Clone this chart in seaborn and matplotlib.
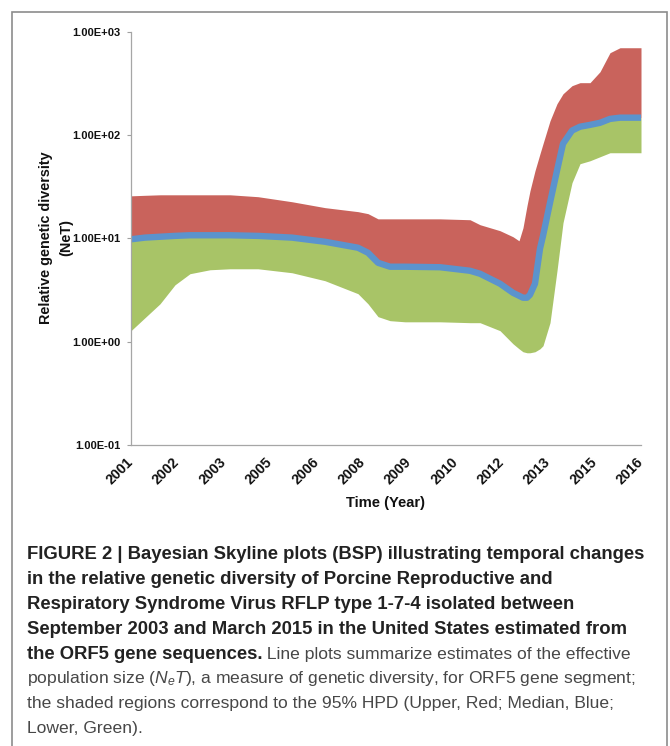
import numpy as np
import pandas as pd
import matplotlib
matplotlib.use("Agg")
import matplotlib.pyplot as plt
import seaborn as sns
from matplotlib.patches import Rectangle
from matplotlib.ticker import NullLocator

# Bayesian skyline reconstruction (time in decimal years)
years = [2001.000, 2001.412, 2001.853, 2002.294, 2002.735, 2003.324, 2003.912,
         2004.735, 2005.735, 2006.706, 2007.676, 2007.971, 2008.265, 2008.618,
         2009.059, 2010.088, 2010.971, 2011.265, 2011.853, 2012.235, 2012.412,
         2012.529, 2012.647, 2012.735, 2012.882, 2013.029, 2013.118, 2013.324,
         2013.529, 2013.706, 2013.971, 2014.206, 2014.500, 2014.794, 2015.088,
         2015.382, 2016.000]

upper_hpd = [25.9, 26.2, 26.5, 26.5, 26.5, 26.5, 26.5,
             25.4, 22.7, 19.9, 18.2, 17.4, 15.5, 15.5,
             15.5, 15.5, 15.2, 13.6, 11.9, 10.4, 9.5,
             12.7, 20.8, 29.0, 45.3, 66.2, 82.8, 138,
             202, 252, 302, 323, 323, 412, 630,
             704, 704]

median_net = [9.83, 10.2, 10.4, 10.6, 10.75, 10.75, 10.75,
              10.6, 10.2, 9.30, 8.14, 7.28, 5.82, 5.33,
              5.33, 5.27, 4.87, 4.56, 3.65, 2.98, 2.79,
              2.67, 2.67, 2.85, 3.65, 7.96, 10.6, 22.2,
              45.3, 82.8, 111, 121, 126, 132, 144,
              148, 148]

lower_hpd = [1.28, 1.71, 2.33, 3.56, 4.56, 4.98, 5.09,
             5.09, 4.66, 3.90, 2.92, 2.33, 1.75, 1.60,
             1.56, 1.56, 1.53, 1.53, 1.28, 0.956, 0.855,
             0.800, 0.782, 0.782, 0.800, 0.855, 0.915, 1.53,
             4.87, 14.2, 34.7, 53.0, 56.6, 61.9, 67.7,
             67.7, 67.7]

year_labels = ["2001", "2002", "2003", "2005", "2006", "2008",
               "2009", "2010", "2012", "2013", "2015", "2016"]
y_ticks = [0.1, 1, 10, 100, 1000]
y_tick_labels = ["1.00E-01", "1.00E+00", "1.00E+01", "1.00E+02", "1.00E+03"]

caption_bold = [
    "FIGURE 2 | Bayesian Skyline plots (BSP) illustrating temporal changes",
    "in the relative genetic diversity of Porcine Reproductive and",
    "Respiratory Syndrome Virus RFLP type 1-7-4 isolated between",
    "September 2003 and March 2015 in the United States estimated from",
    "the ORF5 gene sequences.",
]
caption_regular = [
    " Line plots summarize estimates of the effective",
    "population size ($N_{e}T$), a measure of genetic diversity, for ORF5 gene segment;",
    "the shaded regions correspond to the 95% HPD (Upper, Red; Median, Blue;",
    "Lower, Green).",
]

RED = "#C9635C"
GREEN = "#A8C467"
BLUE = "#5B93CD"

sns.set_theme(style="white")
plt.rcParams["font.family"] = ["Liberation Sans", "DejaVu Sans"]
plt.rcParams["mathtext.fontset"] = "custom"
plt.rcParams["mathtext.rm"] = "Liberation Sans"
plt.rcParams["mathtext.it"] = "Liberation Sans:italic"

W, H = 670, 746
fig = plt.figure(figsize=(W / 100, H / 100), dpi=100)
fig.patch.set_facecolor("white")

ax = fig.add_axes([131 / W, 1 - 445 / H, 510 / W, 413 / H])
ax.set_facecolor("white")

df = pd.DataFrame({"year": years, "upper": upper_hpd,
                   "med": median_net, "lower": lower_hpd})

ax.fill_between(df["year"], df["med"], df["upper"], color=RED, lw=0)
ax.fill_between(df["year"], df["lower"], df["med"], color=GREEN, lw=0)
sns.lineplot(data=df, x="year", y="med", color=BLUE, lw=4.6, ax=ax,
             solid_capstyle="butt", solid_joinstyle="round")

ax.set_yscale("log")
ax.set_ylim(0.1, 1000)
ax.set_xlim(2001, 2016)
ax.set_yticks(y_ticks)
ax.set_yticklabels(y_tick_labels, fontsize=8, fontweight="bold", color="#111111")
ax.yaxis.set_minor_locator(NullLocator())
ax.set_xticks(np.linspace(2001, 2016, len(year_labels)))
ax.set_xticklabels(year_labels, fontsize=10.2, fontweight="bold", color="#111111",
                   rotation=45, ha="right", va="center", rotation_mode="anchor")
ax.tick_params(axis="y", direction="out", length=3, width=0.8, color="#a0a0a0", pad=4.3, left=True)
ax.tick_params(axis="x", length=0, pad=11)
ax.set_xlabel("")
ax.set_ylabel("")
for side in ("top", "right"):
    ax.spines[side].set_visible(False)
for side in ("left", "bottom"):
    ax.spines[side].set_color("#a6a6a6")
    ax.spines[side].set_linewidth(0.9)
ax.grid(False)

fig.text(56 / W, 1 - 238 / H, "Relative genetic diversity\n(NeT)", rotation=90,
         ha="center", va="center", multialignment="center", fontsize=10.4,
         fontweight="bold", color="#111111", linespacing=1.5)
fig.text(386 / W, 1 - 503 / H, "Time (Year)", ha="center", va="center",
         fontsize=10.6, fontweight="bold", color="#111111")

# frame around the figure panel
fig.patches.append(Rectangle((12 / W, -0.05), (667 - 12) / W, 1.05 - 12 / H,
                             transform=fig.transFigure, fill=False,
                             edgecolor="#8c8c8c", lw=1.2, clip_on=False))

# caption
renderer = fig.canvas.get_renderer()
x0 = 27 / W
base0 = 559
step = 24.9
bold_size = 13.3
reg_size = 12.6
bold_color = "#222222"
reg_color = "#474747"

lines = []
for i, s in enumerate(caption_bold):
    t = fig.text(x0, 1 - (base0 + i * step) / H, s, fontsize=bold_size,
                 fontweight="bold", color=bold_color, ha="left", va="baseline")
    lines.append(t)
last_bold = lines[-1]
bb = last_bold.get_window_extent(renderer)
fig.text(bb.x1 / fig.bbox.width, 1 - (base0 + 4 * step) / H, caption_regular[0],
         fontsize=reg_size, color=reg_color, ha="left", va="baseline")
for j, s in enumerate(caption_regular[1:]):
    fig.text(x0, 1 - (base0 + (5 + j) * step) / H, s, fontsize=reg_size,
             color=reg_color, ha="left", va="baseline")

fig.savefig("out.png", dpi=100, facecolor="white")
